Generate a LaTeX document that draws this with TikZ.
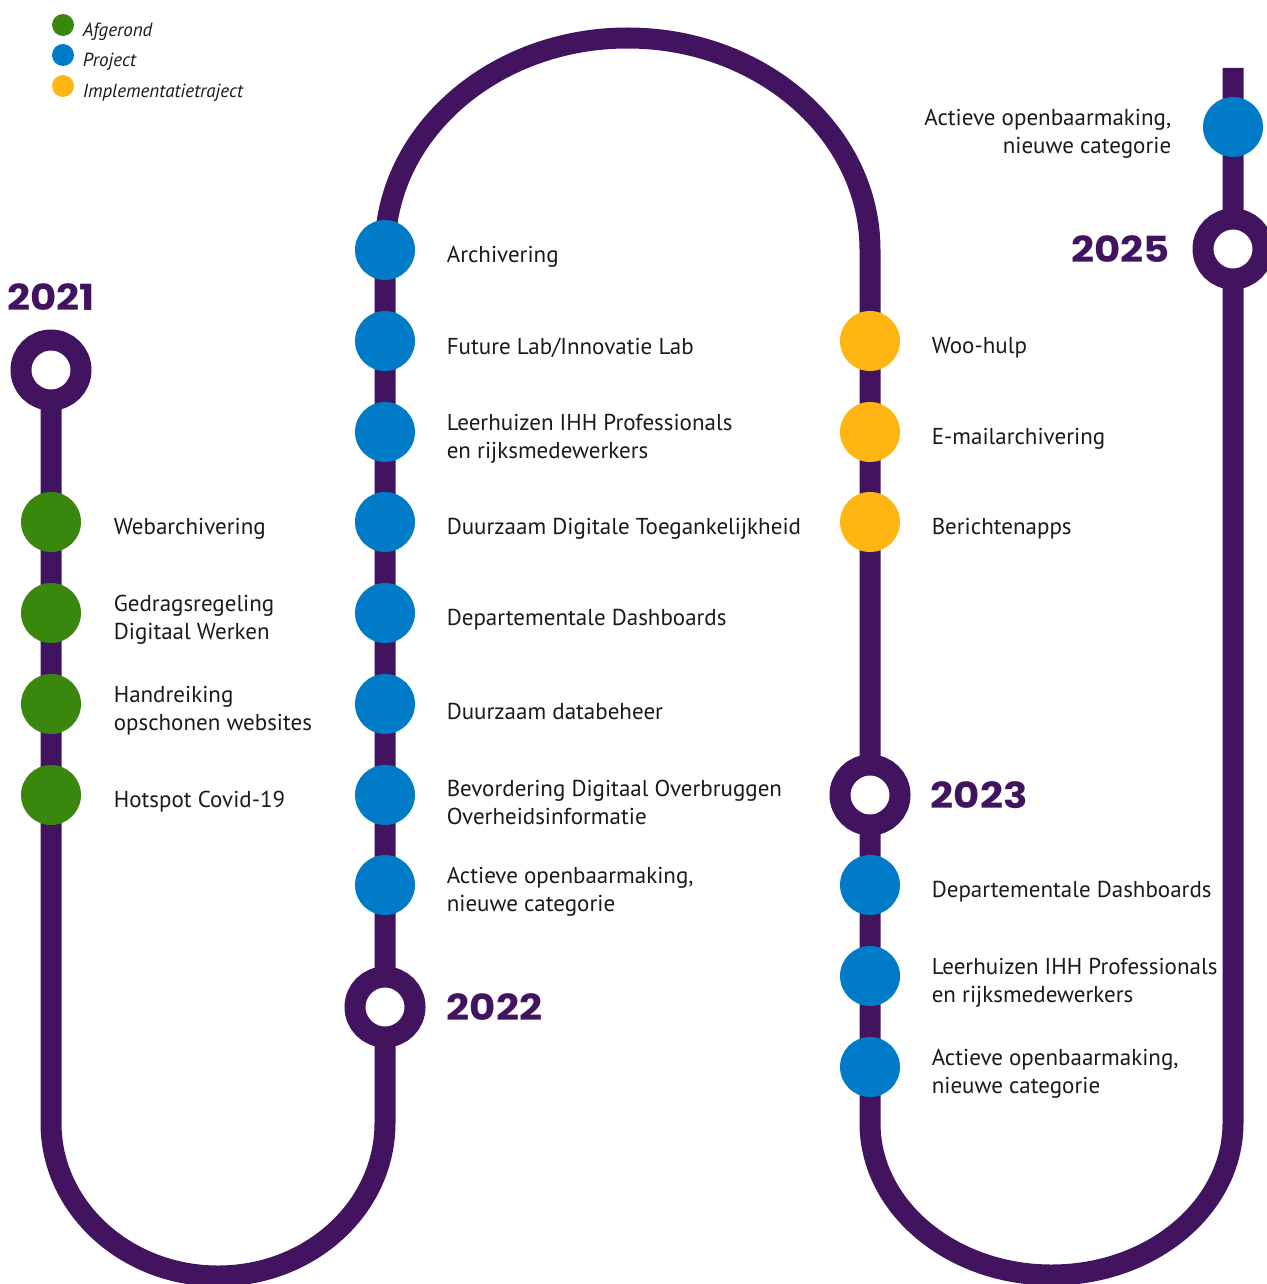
\documentclass[tikz,border=0pt]{standalone}
\usepackage{fontspec}
\setmainfont{PT Sans}
\newfontfamily\yearfont{Poppins}[FakeStretch=1.12]
\usetikzlibrary{positioning, backgrounds}

\definecolor{paars}{HTML}{42145F}
\definecolor{groen}{HTML}{39870C}
\definecolor{blauw}{HTML}{007BC7}
\definecolor{geel}{HTML}{FFB612}
\definecolor{tekst}{HTML}{1A1A1A}

\tikzset{
  track/.style={draw=paars, line width=10.5pt},
  ring/.style={circle, draw=paars, line width=10.5pt, fill=white, minimum size=30pt, inner sep=0pt},
  stip/.style={circle, fill=#1, minimum size=30pt, inner sep=0pt},
  legstip/.style={circle, fill=#1, minimum size=11pt, inner sep=0pt},
  lbl/.style={text=tekst, inner sep=0pt, align=left, yshift=-3.5pt, font=\fontsize{11.5}{14}\selectfont},
  leg/.style={text=tekst, inner sep=0pt, yshift=-3.5pt, font=\itshape\fontsize{9.5}{12}\selectfont},
  jaar/.style={text=paars, inner sep=0pt, font=\yearfont\bfseries\fontsize{18}{18}\selectfont},
}

\begin{document}
\begin{tikzpicture}[x=0.5pt, y=-0.5pt]
\useasboundingbox (0,0) rectangle (1267,1284);

% legenda
\node[legstip=groen] (lg1) at (63,25) {};
\node[legstip=blauw] (lg2) at (63,55) {};
\node[legstip=geel] (lg3) at (63,86) {};
\node[leg, right=4pt of lg1] (lt1) {Afgerond};
\node[leg, right=4pt of lg2] (lt2) {Project};
\node[leg, right=4pt of lg3] (lt3) {Implementatietraject};

% 2021
\node[ring] (r21) at (51,370) {};
\node[jaar, above=9.5pt of r21] (j21) {2021};
\node[stip=groen] (web) at (51,522) {};
\node[stip=groen] (gedrag) at (51,613) {};
\node[stip=groen] (handr) at (51,704) {};
\node[stip=groen] (hotspot) at (51,795) {};
\node[lbl, right=16pt of web] (t-web) {Webarchivering};
\node[lbl, right=16pt of gedrag] (t-gedrag) {Gedragsregeling\\Digitaal Werken};
\node[lbl, right=16pt of handr] (t-handr) {Handreiking\\opschonen websites};
\node[lbl, right=16pt of hotspot] (t-hotspot) {Hotspot Covid-19};

% 2022
\node[stip=blauw] (arch) at (385,250) {};
\node[stip=blauw] (lab) at (385,341) {};
\node[stip=blauw] (leer1) at (385,432) {};
\node[stip=blauw] (dda) at (385,522) {};
\node[stip=blauw] (dash1) at (385,613) {};
\node[stip=blauw] (data) at (385,704) {};
\node[stip=blauw] (bdo) at (385,795) {};
\node[stip=blauw] (actief1) at (385,885) {};
\node[ring] (r22) at (385,1007) {};
\node[jaar, right=10.5pt of r22] (j22) {2022};
\node[lbl, right=15.5pt of arch] (t-arch) {Archivering};
\node[lbl, right=15.5pt of lab] (t-lab) {Future Lab/Innovatie Lab};
\node[lbl, right=15.5pt of leer1] (t-leer1) {Leerhuizen IHH Professionals\\en rijksmedewerkers};
\node[lbl, right=15.5pt of dda] (t-dda) {Duurzaam Digitale Toegankelijkheid};
\node[lbl, right=15.5pt of dash1] (t-dash1) {Departementale Dashboards};
\node[lbl, right=15.5pt of data] (t-data) {Duurzaam databeheer};
\node[lbl, right=15.5pt of bdo] (t-bdo) {Bevordering Digitaal Overbruggen\\Overheidsinformatie};
\node[lbl, right=15.5pt of actief1] (t-actief1) {Actieve openbaarmaking,\\nieuwe categorie};

% 2023
\node[stip=geel] (woo) at (870,341) {};
\node[stip=geel] (mail) at (870,432) {};
\node[stip=geel] (apps) at (870,522) {};
\node[ring] (r23) at (870,795) {};
\node[jaar, right=10pt of r23] (j23) {2023};
\node[stip=blauw] (dash2) at (870,885) {};
\node[stip=blauw] (leer2) at (870,976) {};
\node[stip=blauw] (actief2) at (870,1067) {};
\node[lbl, right=15.5pt of woo] (t-woo) {Woo-hulp};
\node[lbl, right=15.5pt of mail] (t-mail) {E-mailarchivering};
\node[lbl, right=15.5pt of apps] (t-apps) {Berichtenapps};
\node[lbl, right=15.5pt of dash2] (t-dash2) {Departementale Dashboards};
\node[lbl, right=15.5pt of leer2] (t-leer2) {Leerhuizen IHH Professionals\\en rijksmedewerkers};
\node[lbl, right=15.5pt of actief2] (t-actief2) {Actieve openbaarmaking,\\nieuwe categorie};

% 2025
\node[ring] (r25) at (1233,249) {};
\node[jaar, left=11pt of r25] (j25) {2025};
\node[stip=blauw] (actief3) at (1233,127) {};
\node[lbl, align=right, left=15.5pt of actief3] (t-actief3) {Actieve openbaarmaking,\\nieuwe categorie};
\coordinate (eind) at (1233,68);

% het spoor
\begin{scope}[on background layer]
\draw[track] (r21.center) -- (51,1123)
  arc[start angle=180, end angle=0, x radius=167, y radius=153] -- (arch.center)
  arc[start angle=180, end angle=360, x radius=242.5, y radius=212] -- (870,1123)
  arc[start angle=180, end angle=0, x radius=181.5, y radius=152] -- (eind);
\end{scope}
\end{tikzpicture}
\end{document}
